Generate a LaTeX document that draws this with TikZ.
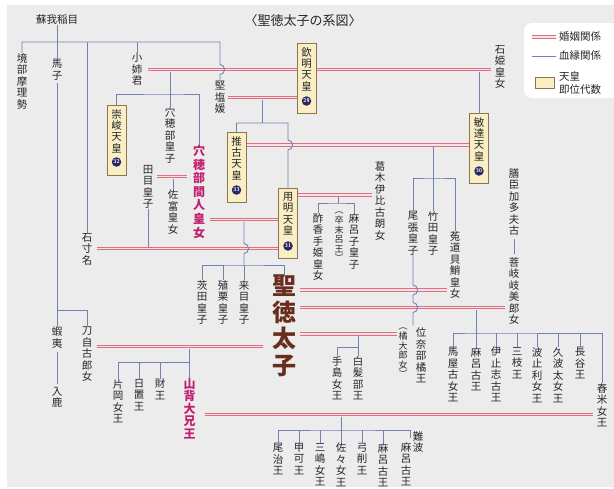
\documentclass[tikz,border=0pt]{standalone}
\usepackage{fontspec}
\newfontfamily\jp{Noto Sans CJK JP}
\definecolor{bg}{RGB}{236,236,236}
\definecolor{marred}{RGB}{222,110,128}
\definecolor{margap}{RGB}{247,228,232}
\definecolor{bluline}{RGB}{112,130,180}
\definecolor{txt}{RGB}{38,38,38}
\definecolor{boxfill}{RGB}{250,238,196}
\definecolor{boxdraw}{RGB}{140,118,78}
\definecolor{navy}{RGB}{42,40,100}
\definecolor{mag}{RGB}{196,30,110}
\definecolor{brownt}{RGB}{105,45,30}
\tikzset{
 nm/.style={font=\jp\fontsize{10.5}{11.5}\selectfont, align=center, inner sep=0pt, anchor=north, text=txt},
 sm/.style={font=\jp\fontsize{9}{9.6}\selectfont, align=center, inner sep=0pt, anchor=north, text=txt},
 lg/.style={font=\jp\fontsize{10.5}{12}\selectfont, anchor=west, inner sep=0pt, text=txt},
 mar/.style={draw=marred, line width=0.9pt, double=margap, double distance=1.6pt},
 blood/.style={draw=bluline, line width=0.9pt},
 tbox/.style={draw=boxdraw, fill=boxfill, line width=0.9pt, minimum width=19pt, minimum height=70pt, inner sep=0pt},
 boxt/.style={font=\jp\fontsize{10.5}{11.4}\selectfont, align=center, inner sep=0pt, anchor=north, text=txt},
 numc/.style={circle, fill=navy, text=white, inner sep=0pt, minimum size=9.5pt, font=\sffamily\bfseries\fontsize{5.5}{6}\selectfont},
}
\begin{document}
\begin{tikzpicture}[x=1pt,y=-1pt]
\useasboundingbox (0,0) rectangle (614,488);
\fill[white] (0,0) rectangle (614,488);
\fill[bg] (7,5) rectangle (614,487);
% legend
\fill[white, rounded corners=8pt] (524,23) rectangle (634,98);
\coordinate (lgA1) at (532,37); \coordinate (lgA2) at (556,37);
\coordinate (lgB1) at (532,56); \coordinate (lgB2) at (556,56);
\draw[mar] (lgA1) -- (lgA2);
\draw[blood] (lgB1) -- (lgB2);
\node[tbox, minimum height=11pt] (lgbox) at (544.5,82.5) {};
\node[lg] (lgt1) at (559,37) {婚姻関係};
\node[lg] (lgt2) at (559,56) {血縁関係};
\node[lg] (lgt3) at (559,77) {天皇};
\node[lg] (lgt4) at (559,90) {即位代数};
% title
\node[font=\jp\fontsize{13}{15}\selectfont, text=txt, inner sep=0pt] (title) at (303,21) {〈聖徳太子の系図〉};

% level coordinates
\coordinate (yBar) at (0,42);
% marriage lines
\coordinate (mA1) at (148,69.5);  \coordinate (mA2) at (491,69.5);
\coordinate (mB1) at (228,97.5);  \coordinate (mB2) at (297,97.5);
\coordinate (mC1) at (246,145);   \coordinate (mC2) at (469,145);
\coordinate (mD1) at (157,176.5); \coordinate (mD2) at (187,176.5);
\coordinate (mE1) at (297,195);   \coordinate (mE2) at (372,195);
\coordinate (mF1) at (210,219.5); \coordinate (mF2) at (278,219.5);
\coordinate (mG1) at (97,248.5);  \coordinate (mG2) at (278,248.5);
\coordinate (mH1) at (300,290);   \coordinate (mH2) at (447,290);
\coordinate (mI1) at (300,307.5); \coordinate (mI2) at (505,307.5);
\coordinate (mJ1) at (300,334);   \coordinate (mJ2) at (397,334);
\coordinate (mK1) at (97,346.5);  \coordinate (mK2) at (263,346.5);
\coordinate (mL1) at (205,414.5); \coordinate (mL2) at (593,414.5);
\foreach \m in {A,B,C,D,E,F,G,H,I,J,K,L} \draw[mar] (m\m1) -- (m\m2);

% emperor boxes
\node[tbox, anchor=north] (kinmei) at (306.5,43) {};
\node[boxt] (kinmeit) at ([yshift=-4pt]kinmei.north) {欽\\明\\天\\皇};
\node[numc] (n29) at ([yshift=-58pt]kinmei.north) {29};
\node[tbox, anchor=north] (bidatsu) at (479,113) {};
\node[boxt] (bidatsut) at ([yshift=-4pt]bidatsu.north) {敏\\達\\天\\皇};
\node[numc] (n30) at ([yshift=-58pt]bidatsu.north) {30};
\node[tbox, anchor=north] (sushun) at (116.5,105) {};
\node[boxt] (sushunt) at ([yshift=-4pt]sushun.north) {崇\\峻\\天\\皇};
\node[numc] (n32) at ([yshift=-57pt]sushun.north) {32};
\node[tbox, anchor=north] (suiko) at (236.5,132) {};
\node[boxt] (suikot) at ([yshift=-4pt]suiko.north) {推\\古\\天\\皇};
\node[numc] (n33) at ([yshift=-58pt]suiko.north) {33};
\node[tbox, anchor=north] (yomei) at (288,188) {};
\node[boxt] (yomeit) at ([yshift=-4pt]yomei.north) {用\\明\\天\\皇};
\node[numc] (n31) at ([yshift=-58pt]yomei.north) {31};

% names
\node[nm, anchor=center] (inamea) at (57,20) {蘇我稲目};
\node[nm] (sakaibe) at (22,53) {境\\部\\摩\\理\\勢};
\node[nm] (umako) at (57,59) {馬\\子};
\node[nm] (oane) at (137,53) {小\\姉\\君};
\node[nm] (kitashi) at (220,81) {堅\\塩\\媛};
\node[nm] (ishihime) at (500,45) {石\\姫\\皇\\女};
\node[nm] (iwakuna) at (87,233) {石\\寸\\名};
\node[nm] (emishi) at (57,327) {蝦\\夷};
\node[nm] (iruka) at (57,387) {入\\鹿};
\node[nm] (tojiko) at (87,327) {刀\\自\\古\\郎\\女};
\node[nm] (anahobe) at (170,107) {穴\\穂\\部\\皇\\子};
\node[nm, font=\jp\bfseries\fontsize{12}{13.6}\selectfont, text=mag] (hashihito) at (199,145) {穴\\穂\\部\\間\\人\\皇\\女};
\node[nm] (tame) at (148,165) {田\\目\\皇\\子};
\node[nm] (tomi) at (173,190) {佐\\富\\皇\\女};
\node[nm] (katsuragi) at (380,161) {葛\\木\\伊\\比\\古\\朗\\女};
\node[nm] (sukate) at (318,213) {酢\\香\\手\\姫\\皇\\女};
\node[nm] (maroko) at (354,213) {麻\\呂\\子\\皇\\子};
\node[sm] (marokob) at (339,212) {︵\\卒\\末\\呂\\王\\︶};
\node[nm] (owari) at (413,211) {尾\\張\\皇\\子};
\node[nm] (takeda) at (433,211) {竹\\田\\皇\\子};
\node[nm] (uji) at (455,231) {菟\\道\\貝\\鮹\\皇\\女};
\node[nm] (kashiwade) at (514,168) {膳\\臣\\加\\多\\夫\\古};
\node[nm] (hokiki) at (514,257) {菩\\岐\\岐\\美\\郎\\女};
\node[nm] (mamuta) at (202,280) {茨\\田\\皇\\子};
\node[nm] (ekuri) at (223,280) {殖\\栗\\皇\\子};
\node[nm] (kume) at (244,280) {来\\目\\皇\\子};
\node[nm, font=\jp\bfseries\fontsize{24}{26.5}\selectfont, text=brownt] (taishi) at (284,275) {聖\\徳\\太\\子};
\node[nm] (kataoka) at (118,379) {片\\岡\\女\\王};
\node[nm] (hioki) at (139,379) {日\\置\\王};
\node[nm] (takara) at (160,379) {財\\王};
\node[nm, font=\jp\bfseries\fontsize{12}{12.6}\selectfont, text=mag] (yamashiro) at (189.5,378) {山\\背\\大\\兄\\王};
\node[nm] (tejima) at (337,356) {手\\島\\女\\王};
\node[nm] (shiraka) at (358,356) {白\\髪\\部\\王};
\node[nm] (inabe) at (421,328) {位\\奈\\部\\橘\\王};
\node[sm] (tachibana) at (403,328) {︵\\橘\\大\\郎\\女\\︶};
\node[nm] (umaya) at (453,347) {馬\\屋\\古\\女\\王};
\node[nm] (maroa) at (476,347) {麻\\呂\\古\\王};
\node[nm] (ishishi) at (496,347) {伊\\止\\志\\古\\王};
\node[nm] (saikusa) at (517,347) {三\\枝\\王};
\node[nm] (hatori) at (537,347) {波\\止\\利\\女\\王};
\node[nm] (kuhata) at (558,347) {久\\波\\太\\女\\王};
\node[nm] (hatsuse) at (580,347) {長\\谷\\王};
\node[nm] (tsukishine) at (602,383) {舂\\米\\女\\王};
\node[nm] (owarib) at (278,443) {尾\\治\\王};
\node[nm] (kouka) at (299,443) {甲\\可\\王};
\node[nm] (mishima) at (320,443) {三\\嶋\\女\\王};
\node[nm] (sasa) at (341,443) {佐\\々\\女\\王};
\node[nm] (yuge) at (362,443) {弓\\削\\王};
\node[nm] (marob) at (383,443) {麻\\呂\\古\\王};
\node[nm] (maroc) at (406,442) {麻\\呂\\古\\王};
\node[nm] (naniwa) at (418,431) {難\\波};

% blood lines
\draw[blood] (inamea.south) -- (inamea.south |- yBar);
\draw[blood] (sakaibe.north) -- (sakaibe.north |- yBar) -- (220,42) -- (220,64.5) .. controls (226,64.5) and (226,74.5) .. (220,74.5) -- (kitashi.north);
\draw[blood] (umako.north) -- (umako.north |- yBar);
\draw[blood] (iwakuna.north) -- (iwakuna.north |- yBar);
\draw[blood] (oane.north) -- (oane.north |- yBar);
\coordinate (ub) at (57,310);
\draw[blood, shorten <=3pt] (umako.south) -- (emishi.north);
\draw[blood] (ub) -| (tojiko.north);
\draw[blood, shorten <=3pt, shorten >=3pt] (emishi.south) -- (iruka.north);
% kinmei + oane
\coordinate (k1) at (170,94);
\draw[blood] (170,71.5) -- (k1);
\draw[blood] (sushun.north) |- (k1) -| (hashihito.north);
\draw[blood] (k1) -- (anahobe.north);
% kinmei + kitashi
\coordinate (k2) at (262,123);
\draw[blood] (262,99.5) -- (k2);
\draw[blood] (suiko.north) |- (k2) -- (288,123) -- (288,140) .. controls (294,140) and (294,150) .. (288,150) -- (yomei.north);
% kinmei + ishihime
\draw[blood] (bidatsu.north) -- (479,71.5);
% bidatsu + suiko
\coordinate (k3) at (433,178);
\draw[blood] (takeda.north) -- (433,147);
\draw[blood] (owari.north) |- (k3) -| (uji.north);
\coordinate (inabetop) at (413,325);
\draw[blood] (owari.south) -- (413,285) .. controls (419,285) and (419,295) .. (413,295) -- (413,302.5) .. controls (419,302.5) and (419,312.5) .. (413,312.5) -- (inabetop);
% yomei + hashihito
\coordinate (k4) at (244,265);
\draw[blood] (244,221.5) -- (244,243.5) .. controls (250,243.5) and (250,253.5) .. (244,253.5) -- (k4);
\draw[blood] (mamuta.north) |- (k4) -| (taishi.north);
\draw[blood] (ekuri.north) -- (ekuri.north |- k4);
\draw[blood] (kume.north) -- (k4);
% yomei + iwakuna
\draw[blood] (tame.south) -- (148,246.5);
% tame + hashihito
\draw[blood] (173,178.5) -- (tomi.north);
% yomei + katsuragi
\coordinate (k5) at (338,203);
\draw[blood] (338,197) -- (k5);
\draw[blood] (sukate.north) |- (k5) -| (maroko.north);
% kashiwade -> hokiki
\draw[blood, shorten <=3pt, shorten >=3pt] (kashiwade.south) -- (hokiki.north);
% taishi + tojiko
\coordinate (k6) at (189.5,362);
\draw[blood] (189.5,348.5) -- (k6);
\draw[blood] (kataoka.north) |- (k6) -- (yamashiro.north);
\foreach \n in {hioki,takara} \draw[blood] (\n.north) -- (\n.north |- k6);
% taishi + tachibana
\coordinate (k7) at (358,347);
\draw[blood] (358,336) -- (k7);
\draw[blood] (tejima.north) |- (k7) -- (shiraka.north);
% taishi + hokiki
\coordinate (k8) at (476,333);
\draw[blood] (476,309.5) -- (k8);
\draw[blood] (umaya.north) |- (k8) -| (tsukishine.north);
\foreach \n in {maroa,ishishi,saikusa,hatori,kuhata,hatsuse} \draw[blood] (\n.north) -- (\n.north |- k8);
% yamashiro + tsukishine
\coordinate (k9) at (341,430);
\coordinate (k10) at (410,438);
\draw[blood] (341,416.5) -- (k9);
\draw[blood] (owarib.north) |- (k9) -| (k10);
\foreach \n in {kouka,mishima,sasa,yuge,marob} \draw[blood] (\n.north) -- (\n.north |- k9);
\end{tikzpicture}
\end{document}
